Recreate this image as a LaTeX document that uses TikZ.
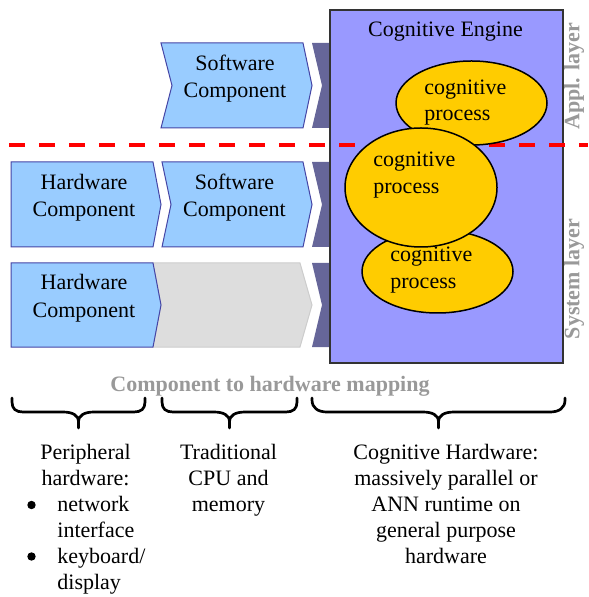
\documentclass[tikz,border=0pt]{standalone}
\usepackage{fontspec}
\setmainfont{Liberation Serif}
\definecolor{chevfill}{HTML}{99CCFF}
\definecolor{chevline}{HTML}{4545A5}
\definecolor{darkconn}{HTML}{666699}
\definecolor{engfill}{HTML}{9999FF}
\definecolor{engline}{HTML}{333333}
\definecolor{procfill}{HTML}{FFCC00}
\definecolor{grayfill}{HTML}{DDDDDD}
\definecolor{grayline}{HTML}{CCCCCC}
\definecolor{labgray}{HTML}{999999}
\definecolor{redline}{HTML}{FF0000}
\begin{document}
\begin{tikzpicture}[x=0.5pt,y=-0.5pt,
  txt/.style={font=\fontsize{11}{13}\selectfont, inner sep=0pt, anchor=base},
  ltxt/.style={txt, anchor=base west},
  graylab/.style={font=\fontsize{11}{13}\selectfont\bfseries, text=labgray, inner sep=0pt},
  bulletdot/.style={circle, fill=black, inner sep=0pt, minimum size=4.2pt},
  chevron/.style={fill=chevfill, draw=chevline, line width=0.5pt, line join=miter},
  graychev/.style={fill=grayfill, draw=grayline, line width=0.5pt},
  conn/.style={fill=darkconn, draw=none},
  engine/.style={fill=engfill, draw=engline, line width=0.8pt},
  proc/.style={fill=procfill, draw=black, line width=0.75pt},
  layerline/.style={draw=redline, line width=2.3pt, dash pattern=on 8pt off 7pt},
  bracestyle/.style={draw=black, line width=1.35pt, line cap=round, line join=round}]
\useasboundingbox (0,0) rectangle (588,597);

% dark connectors
\path[conn] (312,43) -- (332,43) -- (332,128) -- (312,128) -- (322,85.5) -- cycle;
\path[conn] (312,162) -- (332,162) -- (332,247) -- (312,247) -- (322,204.5) -- cycle;
\path[conn] (312,263) -- (332,263) -- (332,347) -- (312,347) -- (322,305) -- cycle;

% chevrons
\path[chevron] (161,43) -- (303,43) -- (312,85.5) -- (303,128) -- (161,128) -- (172,85.5) -- cycle;
\path[chevron] (11,162) -- (153,162) -- (161,204.5) -- (153,247) -- (11,247) -- cycle;
\path[chevron] (162,162) -- (303,162) -- (312,204.5) -- (303,247) -- (162,247) -- (171,204.5) -- cycle;
\path[graychev] (153,263) -- (300,263) -- (312,305) -- (300,347) -- (153,347) -- (161,305) -- cycle;
\path[chevron] (11,263) -- (153,263) -- (161,305) -- (153,347) -- (11,347) -- cycle;

\node[txt] (sw1a) at (235,71) {Software};
\node[txt] (sw1b) at (235,98) {Component};
\node[txt] (hw2a) at (84,189.5) {Hardware};
\node[txt] (hw2b) at (84,216.5) {Component};
\node[txt] (sw2a) at (234.5,189.5) {Software};
\node[txt] (sw2b) at (234.5,216.5) {Component};
\node[txt] (hw3a) at (84,290) {Hardware};
\node[txt] (hw3b) at (84,317.5) {Component};

% engine
\path[engine] (330,10) rectangle (563,363);
\node[txt] (engtitle) at (445.5,37) {Cognitive Engine};

% layer line
\draw[layerline] (9,145) -- (588,145);

% processes
\path[proc] (471.5,103) ellipse [x radius=75.5, y radius=42];
\path[proc] (437.5,271.5) ellipse [x radius=75.5, y radius=41.5];
\path[proc] (421,187.5) ellipse [x radius=76, y radius=59.5];
\node[ltxt] (p1a) at (424,95) {cognitive};
\node[ltxt] (p1b) at (424,121) {process};
\node[ltxt] (p2a) at (373,167) {cognitive};
\node[ltxt] (p2b) at (373,194) {process};
\node[ltxt] (p3a) at (390,262) {cognitive};
\node[ltxt] (p3b) at (390,289) {process};

% layer labels
\node[graylab, rotate=90] (appl) at (574,76) {Appl. layer};
\node[graylab, rotate=90] (sys) at (574,279) {System layer};

% mapping title
\node[graylab] (mapping) at (270,386) {Component to hardware mapping};

% braces
\draw[bracestyle] (12,398) -- (12,402) .. controls (12,409) and (16,412) .. (23,412) -- (62.5,412) .. controls (72.5,412) and (78.5,415) .. (78.5,422) -- (78.5,428)
  (78.5,422) .. controls (78.5,415) and (84.5,412) .. (94.5,412) -- (134,412) .. controls (141,412) and (145,409) .. (145,402) -- (145,398);
\draw[bracestyle] (162,398) -- (162,402) .. controls (162,409) and (166,412) .. (173,412) -- (213.5,412) .. controls (223.5,412) and (229.5,415) .. (229.5,422) -- (229.5,428)
  (229.5,422) .. controls (229.5,415) and (235.5,412) .. (245.5,412) -- (286,412) .. controls (293,412) and (297,409) .. (297,402) -- (297,398);
\draw[bracestyle] (312,398) -- (312,400) .. controls (312,408) and (318,412) .. (327,412) -- (422.5,412) .. controls (432.5,412) and (438.5,415) .. (438.5,422) -- (438.5,428)
  (438.5,422) .. controls (438.5,415) and (444.5,412) .. (454.5,412) -- (550,412) .. controls (559,412) and (565,408) .. (565,400) -- (565,398);

% bottom texts
\node[txt] (c1a) at (85.5,459) {Peripheral};
\node[txt] (c1b) at (85.5,485) {hardware:};
\node[bulletdot] (bul1) at (31.5,505) {};
\node[ltxt] (c1c) at (57,511.5) {network};
\node[ltxt] (c1d) at (57,537) {interface};
\node[bulletdot] (bul2) at (31.5,556.5) {};
\node[ltxt] (c1e) at (57,563) {keyboard/};
\node[ltxt] (c1f) at (57,589) {display};

\node[txt] (c2a) at (228.5,459) {Traditional};
\node[txt] (c2b) at (228.5,485) {CPU and};
\node[txt] (c2c) at (228.5,511) {memory};

\node[txt] (c3a) at (446,459) {Cognitive Hardware:};
\node[txt] (c3b) at (446,485) {massively parallel or};
\node[txt] (c3c) at (446,511) {ANN runtime on};
\node[txt] (c3d) at (446,537) {general purpose};
\node[txt] (c3e) at (446,563) {hardware};
\end{tikzpicture}
\end{document}
